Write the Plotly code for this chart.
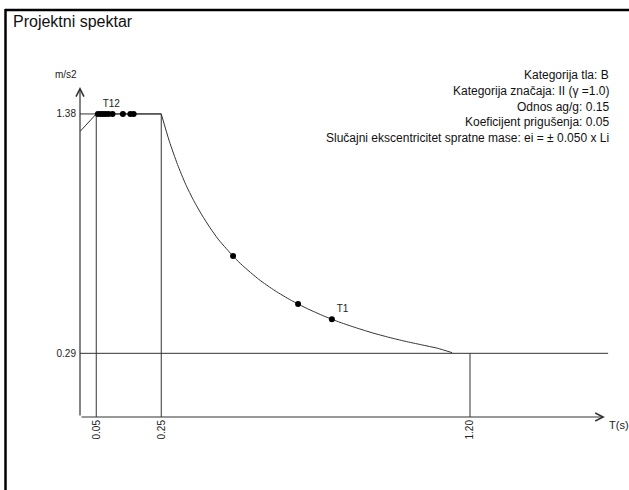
import plotly.graph_objects as go

W, H = 629, 490

# ---- data ----
rise_T = [0.0, 0.05, 0.25]
rise_S = [1.30, 1.38, 1.38]

desc_T = [0.25, 0.275, 0.30, 0.325, 0.35, 0.375, 0.40, 0.425, 0.45, 0.475, 0.50, 0.55, 0.60,
          0.65, 0.70, 0.75, 0.80, 0.85, 0.90, 0.95, 1.00, 1.05, 1.10, 1.145]
desc_S = [1.38, 1.255, 1.15, 1.06, 0.985, 0.92, 0.862, 0.81, 0.767, 0.726, 0.69, 0.627, 0.575,
          0.531, 0.493, 0.46, 0.431, 0.406, 0.383, 0.363, 0.345, 0.329, 0.313, 0.293]

mode_T = [0.055, 0.063, 0.071, 0.079, 0.088, 0.100, 0.132, 0.155, 0.165, 0.471, 0.671, 0.775]
mode_S = [1.38, 1.38, 1.38, 1.38, 1.38, 1.38, 1.38, 1.38, 1.38, 0.733, 0.515, 0.445]
mode_lbl = ["T12", "", "", "", "", "", "", "", "", "", "", "T1"]

x_ticks = [0.05, 0.25, 1.20]
x_tick_text = ["0.05", "0.25", "1.20"]
y_ticks = [0.29, 1.38]
y_tick_text = ["0.29", "1.38"]
T_B, T_C, T_D = 0.05, 0.25, 1.20
S_max, S_min = 1.38, 0.29
T_end = 1.625
S_axis_top = 1.503
T_axis_end = 1.615

title = "Projektni spektar"
info_lines = [
    "Kategorija tla: B",
    "Kategorija značaja: II (γ =1.0)",
    "Odnos ag/g: 0.15",
    "Koeficijent prigušenja: 0.05",
    "Slučajni ekscentricitet spratne mase: ei = ± 0.050 x Li",
]

LINE = "#333333"
FONT = "Liberation Sans, Arial, sans-serif"


def px(x):
    return x / W


def py(y):
    return (H - y) / H


fig = go.Figure()

# guide lines
fig.add_trace(go.Scatter(x=[0, T_C], y=[S_max, S_max], mode="lines",
                         line=dict(color=LINE, width=1), hoverinfo="skip"))
fig.add_trace(go.Scatter(x=[0, T_end], y=[S_min, S_min], mode="lines",
                         line=dict(color=LINE, width=1), hoverinfo="skip"))
for t, s in [(T_B, S_max), (T_C, S_max), (T_D, S_min)]:
    fig.add_trace(go.Scatter(x=[t, t], y=[0, s], mode="lines",
                             line=dict(color=LINE, width=1), hoverinfo="skip"))

# spectrum
fig.add_trace(go.Scatter(x=rise_T, y=rise_S, mode="lines",
                         line=dict(color=LINE, width=1)))
fig.add_trace(go.Scatter(x=desc_T, y=desc_S, mode="lines",
                         line=dict(color=LINE, width=1, shape="spline", smoothing=0.6)))

# modes
fig.add_trace(go.Scatter(x=mode_T, y=mode_S, mode="markers+text", text=mode_lbl,
                         textposition="top right",
                         textfont=dict(family=FONT, size=10, color="#222"),
                         marker=dict(color="black", size=6, symbol="circle")))

x_left_px, x_right_px = 80, 629
y_bot_px, y_top_px = 417, 60
px_per_T = 325.0
px_per_S = 219.6

fig.update_layout(
    width=W, height=H, autosize=False,
    margin=dict(l=0, r=0, t=0, b=0, pad=0),
    paper_bgcolor="white", plot_bgcolor="white",
    showlegend=False,
    font=dict(family=FONT, color="#222"),
    xaxis=dict(domain=[px(x_left_px), 1],
               range=[0, (x_right_px - x_left_px) / px_per_T],
               showgrid=False, zeroline=False, showline=False,
               tickvals=x_ticks, ticktext=x_tick_text, tickangle=-90,
               ticks="", tickfont=dict(size=10, family=FONT, color="#222"),
               automargin=False, fixedrange=True),
    yaxis=dict(domain=[py(y_bot_px), py(y_top_px)],
               range=[0, (y_bot_px - y_top_px) / px_per_S],
               showgrid=False, zeroline=False, showline=False,
               tickvals=y_ticks, ticktext=y_tick_text,
               ticks="", ticklabelstandoff=3,
               tickfont=dict(size=10, family=FONT, color="#222"),
               automargin=False, fixedrange=True),
)

# axes with arrows
fig.add_annotation(x=T_axis_end, y=0, ax=0, ay=0, axref="x", ayref="y", xref="x", yref="y",
                   text="", showarrow=True, arrowhead=5, arrowsize=1.3, arrowwidth=1.2,
                   arrowcolor=LINE, standoff=0, startstandoff=0)
fig.add_annotation(x=0, y=S_axis_top, ax=0, ay=0, axref="x", ayref="y", xref="x", yref="y",
                   text="", showarrow=True, arrowhead=5, arrowsize=1.3, arrowwidth=1.2,
                   arrowcolor=LINE, standoff=0, startstandoff=0)

fig.add_annotation(x=px(607), y=py(425), xref="paper", yref="paper",
                   text="T(s)", showarrow=False, xanchor="left", yanchor="middle",
                   font=dict(size=11, family=FONT, color="#222"))
fig.add_annotation(x=px(79), y=py(74), xref="paper", yref="paper",
                   text="m/s2", showarrow=False, xanchor="right", yanchor="middle",
                   font=dict(size=10, family=FONT, color="#222"))

# title
fig.add_annotation(x=px(11), y=py(22), xref="paper", yref="paper",
                   text=title, showarrow=False, xanchor="left", yanchor="middle",
                   font=dict(size=16, family=FONT, color="#111"))

# info block
for i, line in enumerate(info_lines):
    fig.add_annotation(x=px(611), y=py(75 + i * 15.8), xref="paper", yref="paper",
                       text=line, showarrow=False, xanchor="right", yanchor="middle",
                       font=dict(size=12, family=FONT, color="#111"))

# window frame (top and left borders)
fig.add_shape(type="line", xref="paper", yref="paper", x0=px(5), x1=1, y0=py(10), y1=py(10),
              line=dict(color="black", width=2.5))
fig.add_shape(type="line", xref="paper", yref="paper", x0=px(5.5), x1=px(5.5), y0=0, y1=py(9),
              line=dict(color="black", width=2.5))

fig.write_html("out.html",
               config={"displayModeBar": False, "staticPlot": True},
               post_script="document.body.style.margin='0';document.body.style.overflow='hidden';")
